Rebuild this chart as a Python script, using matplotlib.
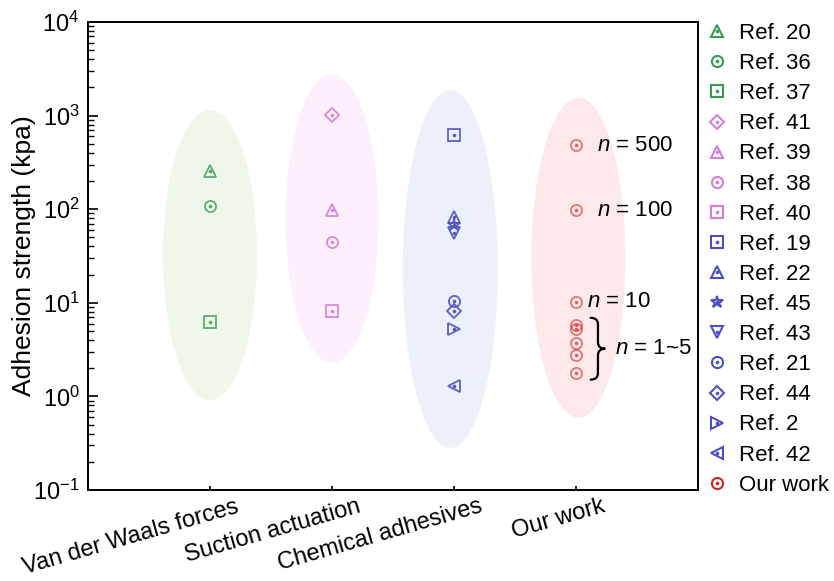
import numpy as np
import matplotlib
matplotlib.use("Agg")
import matplotlib.pyplot as plt
from matplotlib.patches import Ellipse, PathPatch
from matplotlib.path import Path
from matplotlib.lines import Line2D
from matplotlib.transforms import ScaledTranslation, blended_transform_factory

plt.rcParams['font.family'] = ['Liberation Sans', 'DejaVu Sans']
plt.rcParams['mathtext.fontset'] = 'custom'
plt.rcParams['mathtext.rm'] = 'Liberation Sans'
plt.rcParams['mathtext.it'] = 'Liberation Sans:italic'

# --- data ---
categories = ["Van der Waals forces", "Suction actuation", "Chemical adhesives", "Our work"]

ref_labels = ["Ref. 20", "Ref. 36", "Ref. 37",
              "Ref. 41", "Ref. 39", "Ref. 38", "Ref. 40",
              "Ref. 19", "Ref. 22", "Ref. 45", "Ref. 43", "Ref. 21", "Ref. 44", "Ref. 2", "Ref. 42"]
ref_category = [0, 0, 0, 1, 1, 1, 1, 2, 2, 2, 2, 2, 2, 2, 2]
ref_values = [258, 109, 6.3,
              1020, 98, 45, 8.1,
              620, 83, 68, 56, 10.5, 8.1, 5.2, 1.3]

our_values = [485, 98, 10.3, 5.8, 5.2, 3.7, 2.8, 1.8]
our_notes = ["500", "100", "10"]

# --- styling ---
ref_markers = ["^", "o", "s", "D", "^", "o", "s", "s", "^", "*", "v", "o", "D", ">", "<"]
group_colors = ["#3a9a55", "#d47ed8", "#4f4fc4", "#d62424"]
plot_alpha = [0.8, 0.9, 0.9, 0.6]
ellipse_colors = ["#eef7ea", "#fdf0fc", "#ebf0f9", "#fde9e9"]
# (x centre, log10 centre, width in x units, height in decades)
ellipses = [(1.0, 1.51, 0.77, 3.10), (2.0, 1.90, 0.76, 3.08),
            (2.97, 1.36, 0.78, 3.82), (4.02, 1.48, 0.77, 3.42)]

fig = plt.figure(figsize=(8.34, 5.81), dpi=100)
ax = fig.add_axes([88 / 834, 1 - 490 / 581, 610 / 834, 468 / 581])
ax.set_yscale('log')
ax.set_xlim(0, 5)
ax.set_ylim(0.1, 1e4)

# ellipses drawn in (x, log10 y) space so they stay true ellipses
shape_tr = ax.transLimits + ax.transAxes
for (cx, cy, w, h), fc in zip(ellipses, ellipse_colors):
    ax.add_patch(Ellipse((cx, cy), w, h, facecolor=fc, edgecolor='none',
                         transform=shape_tr, zorder=0))

ms = 8
handles = []
for lab, cat, val, mk in zip(ref_labels, ref_category, ref_values, ref_markers):
    c = group_colors[cat]
    size = ms * 0.85 if mk == "D" else (ms * 1.15 if mk == "*" else ms)
    ax.plot([cat + 1], [val], ls='none', marker=mk, ms=size, mfc='none', mec=c,
            mew=1.3, alpha=plot_alpha[cat], zorder=3)
    ax.plot([cat + 1], [val], ls='none', marker='o', ms=1.6, color=c,
            alpha=plot_alpha[cat], zorder=3)
    h1 = Line2D([], [], ls='none', marker=mk, ms=size, mfc='none', mec=c, mew=1.5)
    h2 = Line2D([], [], ls='none', marker='o', ms=1.6, color=c)
    handles.append((h1, h2))

rc = group_colors[3]
our_x = np.full(len(our_values), 4.0)
ax.plot(our_x, our_values, ls='none', marker='o', ms=ms, mfc='none', mec=rc,
        mew=1.3, alpha=plot_alpha[3], zorder=3)
ax.plot(our_x, our_values, ls='none', marker='o', ms=1.6, color=rc,
        alpha=plot_alpha[3], zorder=3)
handles.append((Line2D([], [], ls='none', marker='o', ms=ms, mfc='none', mec=rc, mew=1.5),
                Line2D([], [], ls='none', marker='o', ms=1.6, color=rc)))
labels = ref_labels + ["Our work"]

# annotations
note_x = [4.17, 4.17, 4.09]
for xv, val, note in zip(note_x, our_values[:3], our_notes):
    ax.text(xv, val, "$n$ = " + note, fontsize=16, va='center', ha='left')

# curly brace next to the n = 1~5 group, in (x, log10 y) space
low = np.log10(our_values[3:])
ym = (low.max() + low.min()) / 2
y1, y0 = ym + 0.33, ym - 0.33
x0, bw, d = 4.12, 0.12, 0.07
xm = x0 + bw / 2
verts = [(x0, y1), (xm, y1), (xm, y1 - d),
         (xm, ym + d), (xm, ym), (x0 + bw, ym),
         (xm, ym), (xm, ym - d),
         (xm, y0 + d), (xm, y0), (x0, y0)]
codes = [Path.MOVETO, Path.CURVE3, Path.CURVE3,
         Path.LINETO, Path.CURVE3, Path.CURVE3,
         Path.CURVE3, Path.CURVE3,
         Path.LINETO, Path.CURVE3, Path.CURVE3]
ax.add_patch(PathPatch(Path(verts, codes), facecolor='none', edgecolor='black',
                       lw=1.6, transform=shape_tr, zorder=4, capstyle='round'))
ax.text(4.32, 10 ** ym, "$n$ = 1~5", fontsize=16, va='center', ha='left')

# category labels, rotated and shifted right of their ticks
ax.set_xticks([1, 2, 3, 4])
ax.set_xticklabels([])
lab_tr = blended_transform_factory(ax.transData, ax.transAxes) + \
    ScaledTranslation(18 / 72, -4 / 72, fig.dpi_scale_trans)
for i, name in enumerate(categories):
    ax.text(i + 1, 0, name, transform=lab_tr, rotation=16, ha='right', va='top',
            rotation_mode='anchor', fontsize=17)

ax.tick_params(axis='x', direction='in', length=3, width=1.2, top=False)
ax.tick_params(axis='y', which='major', direction='in', length=7, width=1.2,
               right=False, labelsize=17, pad=6)
ax.tick_params(axis='y', which='minor', direction='in', length=4, width=1.0, right=False)
for sp in ax.spines.values():
    sp.set_linewidth(1.4)
ax.set_ylabel("Adhesion strength (kpa)", fontsize=19, labelpad=-2)

fig.legend(handles, labels, loc='upper left', bbox_to_anchor=(706 / 834, 1 - 23 / 581),
           frameon=False, fontsize=16, handlelength=1.0, handletextpad=0.5,
           labelspacing=0.41, borderaxespad=0, borderpad=0)

fig.savefig("out.png", dpi=100)
